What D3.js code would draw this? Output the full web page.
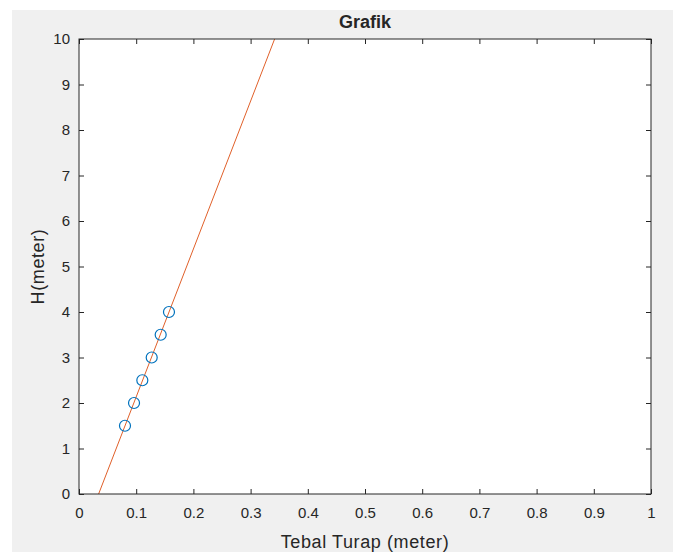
<!DOCTYPE html>
<html lang="en">
<head>
<meta charset="UTF-8">
<script src="https://d3js.org/d3.v7.min.js"></script>
<style>
  body { margin: 0; background: #ffffff; }
  svg text { font-family: Arial, "Liberation Sans", Helvetica, sans-serif; fill: #262626; }
</style>
</head>
<body>
<div id="chart"></div>
<script>
// measured points: thickness (m) vs H (m)
const tebal = [0.0804, 0.0962, 0.1107, 0.1271, 0.1428, 0.1573];
const tinggi = [1.5, 2, 2.5, 3, 3.5, 4];
// fitted line end points
const fitX = [0.0343, 0.342];
const fitY = [0, 10];
const xTicks = [0, 0.1, 0.2, 0.3, 0.4, 0.5, 0.6, 0.7, 0.8, 0.9, 1];
const yTicks = [0, 1, 2, 3, 4, 5, 6, 7, 8, 9, 10];

const W = 673, H = 552;
const margin = { top: 39, right: 22, bottom: 58, left: 79 };
const width = W - margin.left - margin.right,
      height = H - margin.top - margin.bottom;

const svg = d3.select("#chart").append("svg")
  .attr("width", W).attr("height", H);

// grey figure background
svg.append("rect")
  .attr("x", 12).attr("y", 10)
  .attr("width", W - 12).attr("height", H - 10)
  .attr("fill", "#f0f0f0");

const g = svg.append("g")
  .attr("transform", `translate(${margin.left},${margin.top})`);

const x = d3.scaleLinear().domain([0, 1]).range([0, width]);
const y = d3.scaleLinear().domain([0, 10]).range([height, 0]);

g.append("rect")
  .attr("width", width).attr("height", height)
  .attr("fill", "#ffffff");

g.append("clipPath").attr("id", "clip")
  .append("rect").attr("width", width).attr("height", height);

// axes with inward ticks (box on)
const styleAxis = sel => {
  sel.select(".domain").remove();
  sel.selectAll(".tick line").attr("stroke", "#262626");
};
g.append("g").attr("transform", `translate(0,${height})`)
  .call(d3.axisBottom(x).tickValues(xTicks).tickSizeInner(-5).tickSizeOuter(0)
    .tickPadding(13).tickFormat(d3.format("~g")))
  .call(styleAxis)
  .selectAll("text").style("font-size", "15px").attr("fill", "#333333");
g.append("g")
  .call(d3.axisLeft(y).tickValues(yTicks).tickSizeInner(-5).tickSizeOuter(0)
    .tickPadding(9).tickFormat(d3.format("d")))
  .call(styleAxis)
  .selectAll("text").style("font-size", "15px").attr("fill", "#333333");
g.append("g")
  .call(d3.axisTop(x).tickValues(xTicks).tickSizeInner(-5).tickSizeOuter(0).tickFormat(""))
  .call(styleAxis);
g.append("g").attr("transform", `translate(${width},0)`)
  .call(d3.axisRight(y).tickValues(yTicks).tickSizeInner(-5).tickSizeOuter(0).tickFormat(""))
  .call(styleAxis);

// fit line
g.append("line")
  .attr("clip-path", "url(#clip)")
  .attr("x1", x(fitX[0])).attr("y1", y(fitY[0]))
  .attr("x2", x(fitX[1])).attr("y2", y(fitY[1]))
  .attr("stroke", "#e0602a").attr("stroke-width", 1);

// data markers
g.selectAll("circle.pt")
  .data(tebal)
  .join("circle")
  .attr("class", "pt")
  .attr("cx", d => x(d))
  .attr("cy", (d, i) => y(tinggi[i]))
  .attr("r", 5.5)
  .attr("fill", "none")
  .attr("stroke", "#0072bd")
  .attr("stroke-width", 1.2);

// box outline
g.append("rect")
  .attr("width", width).attr("height", height)
  .attr("fill", "none").attr("stroke", "#262626").attr("stroke-width", 1);

// title and labels
svg.append("text")
  .attr("x", margin.left + width / 2).attr("y", 28)
  .attr("text-anchor", "middle")
  .style("font-size", "18px").style("font-weight", "bold")
  .text("Grafik");

svg.append("text")
  .attr("x", margin.left + width / 2).attr("y", 548)
  .attr("text-anchor", "middle")
  .style("font-size", "18px").style("letter-spacing", "0.6px")
  .attr("fill", "#333333")
  .text("Tebal Turap (meter)");

svg.append("text")
  .attr("transform", `translate(44,${margin.top + height / 2}) rotate(-90)`)
  .attr("text-anchor", "middle")
  .style("font-size", "18px").style("letter-spacing", "0.6px")
  .attr("fill", "#333333")
  .text("H(meter)");
</script>
</body>
</html>
